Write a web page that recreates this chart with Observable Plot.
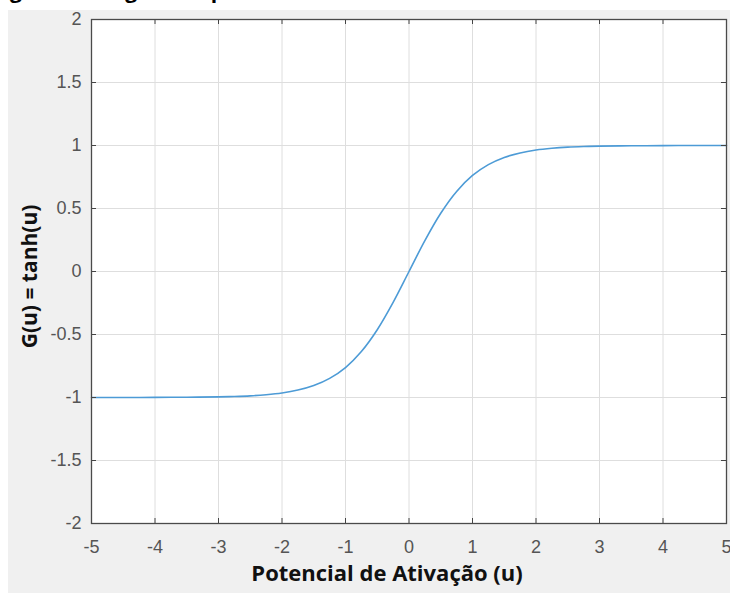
<!DOCTYPE html>
<html>
<head>
<meta charset="utf-8">
<script src="https://cdn.jsdelivr.net/npm/d3@7"></script>
<script src="https://cdn.jsdelivr.net/npm/@observablehq/plot@0.6"></script>
<style>
  html, body { margin: 0; padding: 0; background: #ffffff; }
  #wrap { position: relative; width: 730px; height: 593px; overflow: hidden; }
  #panel { position: absolute; left: 8px; top: 10px; width: 722px; height: 583px; background: #f0f0f0; }
  #title { position: absolute; left: -8px; top: -21px; font: bold 21px "Open Sans", Lato, sans-serif; line-height: 22px; white-space: nowrap; color: #000; }
  #chart { position: absolute; left: 0; top: 0; }
</style>
</head>
<body>
<div id="wrap">
  <div id="panel"></div>
  <div id="title">Figura 6: Tangente hiperbólica</div>
  <div id="chart"></div>
</div>
<script>
// Data: G(u) = tanh(u)
const u = [-5, -4.5, -4, -3.5, -3, -2.75, -2.5, -2.25, -2, -1.75, -1.5, -1.25, -1, -0.75, -0.5, -0.25, 0,
           0.25, 0.5, 0.75, 1, 1.25, 1.5, 1.75, 2, 2.25, 2.5, 2.75, 3, 3.5, 4, 4.5, 5];
const G = [-1.0, -1.0, -0.999, -0.998, -0.995, -0.992, -0.987, -0.978, -0.964, -0.941, -0.905, -0.848, -0.762, -0.635, -0.462, -0.245, 0,
           0.245, 0.462, 0.635, 0.762, 0.848, 0.905, 0.941, 0.964, 0.978, 0.987, 0.992, 0.995, 0.998, 0.999, 1.0, 1.0];
const xTicks = [-5, -4, -3, -2, -1, 0, 1, 2, 3, 4, 5];
const yTicks = [-2, -1.5, -1, -0.5, 0, 0.5, 1, 1.5, 2];
const xLabel = "Potencial de Ativação (u)";
const yLabel = "G(u) = tanh(u)";

const data = u.map((x, i) => ({u: x, g: G[i]}));

const W = 730, H = 593;
const mL = 91, mR = 4, mT = 19, mB = 70;
const fw = W - mL - mR, fh = H - mT - mB;
const tk = 5;
const labelFont = "'Open Sans', Lato, sans-serif";

const plot = Plot.plot({
  width: W,
  height: H,
  marginLeft: mL,
  marginRight: mR,
  marginTop: mT,
  marginBottom: mB,
  style: {background: "transparent", fontFamily: "'Liberation Sans', Arial, sans-serif"},
  x: {domain: [-5, 5]},
  y: {domain: [-2, 2]},
  marks: [
    Plot.frame({fill: "#ffffff", stroke: "none"}),
    Plot.gridX(xTicks, {stroke: "#dedede", strokeOpacity: 1}),
    Plot.gridY(yTicks, {stroke: "#dedede", strokeOpacity: 1}),
    Plot.line(data, {x: "u", y: "g", stroke: "#4d9bd6", strokeWidth: 1.6, curve: "catmull-rom"}),
    // inward tick marks
    Plot.tickX(xTicks, {x: d => d, insetTop: fh - tk, stroke: "#444"}),
    Plot.tickX(xTicks, {x: d => d, insetBottom: fh - tk, stroke: "#444"}),
    Plot.tickY(yTicks, {y: d => d, insetRight: fw - tk, stroke: "#444"}),
    Plot.tickY(yTicks, {y: d => d, insetLeft: fw - tk, stroke: "#444"}),
    Plot.frame({stroke: "#4a4a4a", strokeWidth: 1.3}),
    Plot.axisX({ticks: xTicks, tickSize: 0, tickPadding: 17, fontSize: 18, fill: "#555", label: null, tickFormat: d => String(d)}),
    Plot.axisY({ticks: yTicks, tickSize: 0, tickPadding: 10, fontSize: 18, fill: "#555", label: null, tickFormat: d => String(d)}),
    Plot.text([xLabel], {text: d => d, frameAnchor: "bottom", dy: 57, dx: -22, fontSize: 22, fontWeight: "bold", fill: "#111", fontFamily: labelFont}),
    Plot.text([yLabel], {text: d => d, frameAnchor: "left", textAnchor: "middle", dx: -61, dy: 5, rotate: -90, fontSize: 21, fontWeight: "bold", fill: "#111", fontFamily: labelFont})
  ]
});
document.getElementById("chart").appendChild(plot);
</script>
</body>
</html>
